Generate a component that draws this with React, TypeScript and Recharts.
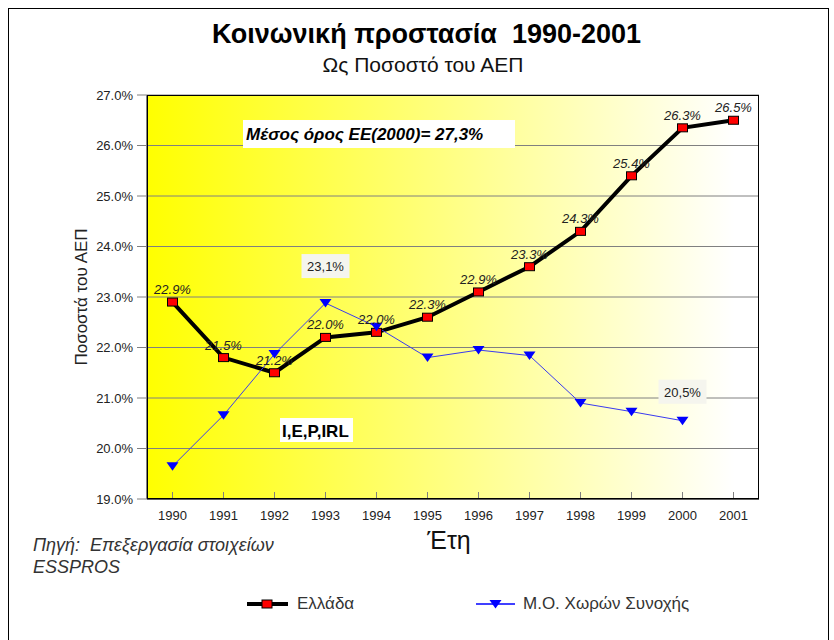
import React from 'react';
import { LineChart, Line, XAxis, YAxis, CartesianGrid, LabelList } from 'recharts';

const years = ['1990', '1991', '1992', '1993', '1994', '1995', '1996', '1997', '1998', '1999', '2000', '2001'];
const greeceValues = [22.9, 21.8, 21.5, 22.2, 22.3, 22.6, 23.1, 23.6, 24.3, 25.4, 26.35, 26.5];
const greeceLabels = ['22.9%', '21.5%', '21.2%', '22.0%', '22.0%', '22.3%', '22.9%', '23.3%', '24.3%', '25.4%', '26.3%', '26.5%'];
const cohesionValues = [19.65, 20.66, 21.87, 22.88, 22.41, 21.8, 21.95, 21.84, 20.9, 20.73, 20.55, null];
const cohesionLabels = ['', '', '', '23,1%', '', '', '', '', '', '', '20,5%', ''];
const yTicks = [19, 20, 21, 22, 23, 24, 25, 26, 27];

const data = years.map((year, i) => ({
  year,
  greece: greeceValues[i],
  greeceLabel: greeceLabels[i],
  cohesion: cohesionValues[i],
  cohesionLabel: cohesionLabels[i],
}));

const FONT = 'Arial, "Liberation Sans", sans-serif';

// how far above the point the boxed labels of the cohesion series sit
const BLUE_LABEL_LIFT: Record<number, number> = { 3: 37, 10: 29 };

function SquareDot(props: any) {
  const { cx, cy, index } = props;
  if (cx == null || cy == null) return <g key={`sq-${index}`} />;
  return (
    <rect key={`sq-${index}`} x={cx - 5} y={cy - 4} width={10} height={8} fill="#ff0000" stroke="#000" strokeWidth={1} />
  );
}

function TriangleDot(props: any) {
  const { cx, cy, value, index } = props;
  if (cx == null || cy == null || value == null) return <g key={`tri-${index}`} />;
  return (
    <path key={`tri-${index}`} d={`M${cx - 6},${cy - 4} L${cx + 6},${cy - 4} L${cx},${cy + 4.5} Z`} fill="#0000ff" />
  );
}

function pos(props: any) {
  const x = props.x ?? props.viewBox?.x;
  const y = props.y ?? props.viewBox?.y;
  return { x, y };
}

function GreeceLabel(props: any) {
  const { x, y } = pos(props);
  if (x == null || !props.value) return null;
  return (
    <text x={x} y={y - 8} textAnchor="middle" fontFamily={FONT} fontSize={13} fontStyle="italic" fill="#222">
      {props.value}
    </text>
  );
}

function CohesionLabel(props: any) {
  const { x, y } = pos(props);
  if (x == null || !props.value) return null;
  const lift = BLUE_LABEL_LIFT[props.index] ?? 30;
  const cy = y - lift;
  return (
    <g>
      <rect x={x - 24} y={cy - 12} width={48} height={24} fill="#f5f5ee" />
      <text x={x} y={cy + 5} textAnchor="middle" fontFamily={FONT} fontSize={13} fill="#222">
        {props.value}
      </text>
    </g>
  );
}

export default function App() {
  return (
    <div style={{ position: 'absolute', left: 0, top: 0, width: 834, height: 640, overflow: 'hidden', background: '#fff' }}>
      <div style={{ position: 'absolute', left: 8, top: 8, width: 819, height: 700, border: '1px solid #000' }} />
      <div style={{ position: 'absolute', left: 0, top: 0 }}>
        <LineChart width={834} height={640} data={data} margin={{ top: 95, right: 75, bottom: 111, left: 87 }}>
          <defs>
            <linearGradient id="plotBg" x1="0" y1="0" x2="1" y2="0">
              <stop offset="0%" stopColor="#ffff00" />
              <stop offset="96%" stopColor="#ffffff" />
              <stop offset="100%" stopColor="#ffffff" />
            </linearGradient>
          </defs>
          <CartesianGrid vertical={false} stroke="#808080" fill="url(#plotBg)" fillOpacity={1} />
          <XAxis
            dataKey="year"
            interval={0}
            height={30}
            padding={{ left: 25.5, right: 25.5 }}
            tickSize={-7}
            tickMargin={19}
            axisLine={{ stroke: '#000' }}
            tickLine={{ stroke: '#808080' }}
            tick={{ fill: '#222', fontSize: 13, fontFamily: FONT }}
          />
          <YAxis
            domain={[19, 27]}
            ticks={yTicks}
            allowDataOverflow
            width={60}
            tickSize={10}
            tickMargin={4}
            tickFormatter={(v: number) => `${v.toFixed(1)}%`}
            axisLine={{ stroke: '#000' }}
            tickLine={{ stroke: '#808080' }}
            tick={{ fill: '#222', fontSize: 13, fontFamily: FONT }}
          />
          <Line
            dataKey="greece"
            stroke="#000"
            strokeWidth={4}
            dot={<SquareDot />}
            activeDot={false}
            isAnimationActive={false}
          >
            <LabelList dataKey="greeceLabel" content={<GreeceLabel />} />
          </Line>
          <Line
            dataKey="cohesion"
            stroke="#3a3af0"
            strokeWidth={1}
            dot={<TriangleDot />}
            activeDot={false}
            isAnimationActive={false}
          >
            <LabelList dataKey="cohesionLabel" content={<CohesionLabel />} />
          </Line>
        </LineChart>
      </div>
      <svg width={834} height={640} style={{ position: 'absolute', left: 0, top: 0, pointerEvents: 'none' }} fontFamily={FONT} xmlSpace="preserve">
        <rect x={147.5} y={95.5} width={611} height={403} fill="none" stroke="#000" strokeWidth={1} />

        <text x={426.5} y={43} textAnchor="middle" fontSize={27} fontWeight="bold" fill="#000" style={{ whiteSpace: 'pre' }}>
          {'Κοινωνική προστασία  1990-2001'}
        </text>
        <text x={423} y={72} textAnchor="middle" fontSize={21} fill="#111">
          Ως Ποσοστό του ΑΕΠ
        </text>

        <rect x={243} y={120} width={272} height={28} fill="#fff" />
        <text x={246} y={140} fontSize={17} fontWeight="bold" fontStyle="italic" fill="#000">
          Μέσος όρος ΕΕ(2000)= 27,3%
        </text>

        <rect x={280} y={418} width={73} height={24} fill="#fff" />
        <text x={282} y={437} fontSize={17} fontWeight="bold" fill="#000">
          I,E,P,IRL
        </text>

        <text x={0} y={0} transform="translate(87,297) rotate(-90)" textAnchor="middle" fontSize={17} fill="#222">
          Ποσοστά του ΑΕΠ
        </text>
        <text x={449} y={549} textAnchor="middle" fontSize={25} fill="#111">
          Έτη
        </text>

        <text x={33} y={551} fontSize={18} fontStyle="italic" fill="#333" style={{ whiteSpace: 'pre' }}>
          {'Πηγή:  Επεξεργασία στοιχείων'}
        </text>
        <text x={33} y={573} fontSize={18} fontStyle="italic" fill="#333">
          ESSPROS
        </text>

        <line x1={247} y1={604} x2={288} y2={604} stroke="#000" strokeWidth={4} />
        <rect x={262} y={600} width={10} height={8} fill="#ff0000" stroke="#000" strokeWidth={1} />
        <text x={297} y={609} fontSize={17} fill="#333">
          Ελλάδα
        </text>

        <line x1={476} y1={604} x2={515} y2={604} stroke="#0000ff" strokeWidth={1.5} />
        <path d="M489.5,600 L501.5,600 L495.5,608.5 Z" fill="#0000ff" />
        <text x={523} y={609} fontSize={17} fill="#333">
          Μ.Ο. Χωρών Συνοχής
        </text>
      </svg>
    </div>
  );
}
